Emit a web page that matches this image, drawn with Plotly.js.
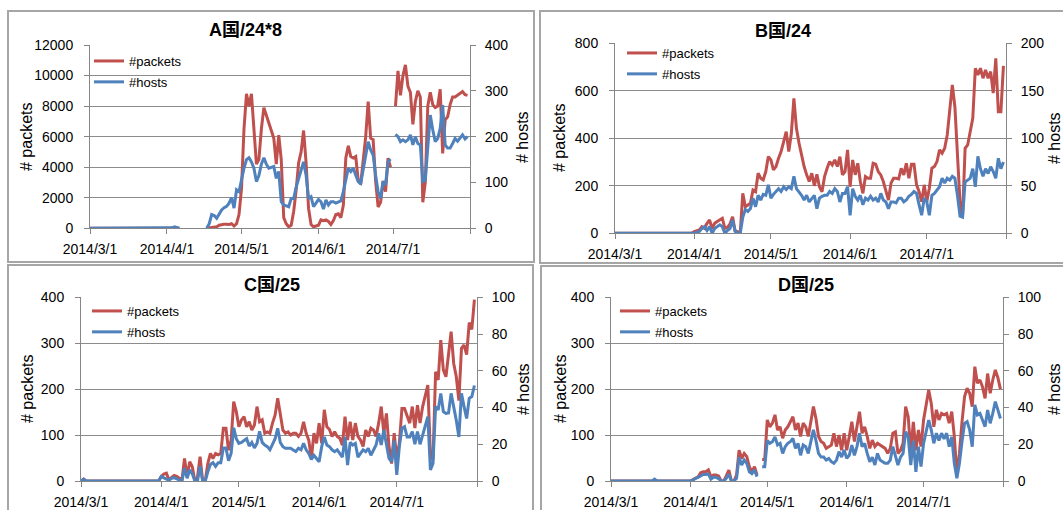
<!DOCTYPE html>
<html>
<head>
<meta charset="utf-8">
<script src="https://cdn.plot.ly/plotly-3.0.1.min.js"></script>
<style>html,body{margin:0;padding:0;background:#fff;}#chart{width:1063px;height:510px;}</style>
</head>
<body>
<div id="chart"></div>
<script>
// ---------- data ----------
const monthKeys = ['2014-03', '2014-04', '2014-05', '2014-06', '2014-07'];
const monthDays = [31, 30, 31, 30, 31];
const tickDates = ['2014-03-01', '2014-04-01', '2014-05-01', '2014-06-01', '2014-07-01', '2014-08-01'];
const tickLabels = ['2014/3/1', '2014/4/1', '2014/5/1', '2014/6/1', '2014/7/1', ''];

const panelTitles = ['A国/24*8', 'B国/24', 'C国/25', 'D国/25'];
const seriesNames = ['#packets', '#hosts'];

const aPackets = [
  0,0,0,0,0,0,0,0,0,0, 0,0,0,0,0,0,0,0,0,0, 0,0,0,0,0,0,0,0,0,0, 0,
  0,0,0,0,0,0, null,null,null,null,null,null,null,null,null,null, 0,30,50,80,100,200,250,260,270,250,300,150,300,900,
  2600,6500,8800,8000,8800,6500,4200,4500,6500,7900, 7400,6800,6300,5900,4200,6100,4500,700,300,100, 200,1100,2500,4300,5000,6400,4300,1300,250,100, 150,
  200,550,500,550,450,250,500,900,950,700, 1500,4600,5400,4700,4600,4700,3100,2900,4500,6000, 8300,5900,5800,3100,1400,1700,3100,2400,4600,4000,
  null,8000,10300,8700,10000,10700,9300,8900,6800,8300, 9000,8600,1700,3000,8000,8900,8100,7900,8000,9100, 4900,7100,7300,8100,8600,8600,8700,8850,8950,8750, 8700
];
const aHosts = [
  0,0,0,0,0,0,0,0,0,0, 0,0,0,0,0,0,0,0,0,0, 0,0,0,0,0,0,0,0,0,0, 0,
  0,0,1,3,1,0, null,null,null,null,null,null,null,null,null,null, 0,10,30,28,22,32,40,45,48,55,67,44,84,80,
  110,131,150,154,145,131,102,115,140,154, 140,131,133,135,109,124,58,51,49,47, 65,65,90,109,124,145,116,65,69,47, 55,
  63,58,42,62,51,58,58,55,58,60, 80,109,131,124,131,116,102,98,131,160, 189,171,160,116,80,65,102,95,145,151,
  null,205,200,189,193,189,193,204,182,200, 185,182,102,105,182,247,215,189,196,218, 269,182,175,175,185,196,190,197,204,195, 200
];

const bPackets = [
  0,0,0,0,0,0,0,0,0,0, 0,0,0,0,0,0,0,0,0,0, 0,0,0,0,0,0,0,0,0,0, 0,
  7,10,14,28,21,42,56,20,42,50, 56,63,21,25,40,70,10,7,0,168, 112,119,126,182,175,253,232,225,260,323,
  309,267,281,316,344,386,428,344,420,568, 442,380,330,281,246,218,253,200,248,196, 175,239,274,302,288,309,281,323,246,260, 351,
  196,309,246,295,218,168,239,232,232,295, 291,260,246,218,175,140,211,232,232,229, 274,246,295,232,291,291,204,175,133,204,
  133,190,274,281,302,351,337,358,414,526, 625,533,358,133,70,358,372,428,484,695, 667,695,653,688,653,681,590,737,512,512, 705
];
const bHosts = [
  0,0,0,0,0,0,0,0,0,0, 0,0,0,0,0,0,0,0,0,0, 0,0,0,0,0,0,0,0,0,0, 0,
  0,1,2,5,7,3,7,0,5,7, 9,7,0,3,5,14,2,0,0,17, 25,23,26,37,28,40,35,41,40,51,
  37,41,44,47,44,49,46,49,47,60, 47,44,40,35,40,33,37,40,26,37, 39,40,40,44,42,47,44,33,42,42, 49,
  19,47,39,35,40,30,37,35,39,35, 37,33,42,35,33,26,33,33,32,37, 37,33,35,39,41,44,42,30,19,37,
  33,19,40,42,46,49,58,53,58,56, 60,58,40,18,17,54,56,58,68,49, 81,68,60,68,63,70,65,58,79,68, 75
];

const cPackets = [
  0,4,0,0,0,0,0,0,0,0, 0,0,0,0,0,0,0,0,0,0, 0,0,0,0,0,0,0,0,0,0, 0,
  10,15,17,2,8,12,10,6,2,49, 9,42,31,0,8,53,0,0,38,60, 49,60,57,60,115,115,67,89,173,151,
  118,133,140,118,129,111,122,162,129,133, 104,107,104,126,144,180,140,111,104,107, 100,104,104,97,104,129,104,89,49,104, 82,
  126,82,155,118,112,97,107,97,93,78, 140,89,129,89,126,97,89,75,111,97, 115,111,97,126,162,104,147,75,38,104,
  49,82,158,158,144,126,162,115,165,126, 162,184,209,57,46,238,220,307,242,227, 274,325,256,227,175,289,296,275,345,330, 395
];
const cHosts = [
  0,1,0,0,0,0,0,0,0,0, 0,0,0,0,0,0,0,0,0,0, 0,0,0,0,0,0,0,0,0,0, 0,
  2.4,1.5,1,0.5,1.5,1.8,1,0.5,0,7, 1.5,6,4,0,0,8,0,0,5,9, 10,8,10,10,18,18,11,15,29,23,
  20.5,21,22,23,19,21,18,20.5,27,21, 19.6,18.7,17,19.6,23,28.7,21,18.7,17.8,17.8, 17.8,16.9,16,17.8,17,20.5,17,15,11.8,14, 12,
  10.5,18.7,24,19.6,18.7,17,16,17,15,13, 24,8.7,21,19.6,20.5,13,15,17,16,17.8, 14,17,19.6,26,19.6,27.8,21,12.3,10.5,22,
  3.3,18.7,28.7,29.6,24,24,26.9,20,26.9,20, 25,29.6,35,6,9.6,40.5,38.7,47.7,37.8,36.8, 37,47.7,40.5,33,24,47.7,40.5,34,45,46, 52
];

const dPackets = [
  0,0,0,0,0,0,0,0,0,0, 0,0,0,0,0,0,0,0,0,0, 0,0,0,0,0,0,0,0,0,0, 0,
  0,3,6,9,18,20,20,24,9,13, 13,11,0,0,11,24,0,0,13,67, 49,60,53,31,20,31,13,null,47,47,
  133,118,126,144,111,118,93,111,118,129, 140,111,126,97,126,118,97,129,162,136, 97,86,82,71,75,78,104,75,100,67, 104,
  67,97,129,86,118,151,104,118,97,71, 89,75,82,78,75,71,60,71,104,107, 60,67,82,162,140,64,129,67,111,75,
  133,162,198,169,118,155,133,147,144,147, 126,151,97,13,60,129,184,202,191,162, 249,213,220,205,180,234,191,220,242,225, 200
];
const dHosts = [
  0,0,0,0,0,0,0,0,0,0, 0,0,0,0,0,0,0,1,0,0, 0,0,0,0,0,0,0,0,0,0, 0,
  0,0.5,1.5,2,2.7,3.6,3.6,3.8,1,2, 2,1.3,0,0,1.5,3.6,0,0,1.5,13, 8.7,11.4,9.6,5,4,6,2.4,null,7.8,7.8,
  22,20.5,21.4,24,19.6,20.5,15,18.7,20.5,21.4, 23.2,17.8,20.5,14,19.6,18.7,15,21.4,27.8,22, 15,13,13,11.4,12.3,10.5,9.6,11.4,16,13, 16.9,
  12.3,14,19.6,14,18.7,26,18.7,20.5,15,10.5, 13,8.7,15,11.4,10.5,9.6,9.6,11.4,18.7,14, 8.7,13,15,26.9,24,8.7,22,5,18.7,7.8,
  20.5,26.9,33.2,27.8,20.5,26,22,26,23,26, 18.7,24,9.6,1.5,9.6,21.4,31.4,32.3,27.8,18.7, 41.4,36,36.8,33.2,29.6,38.7,31.4,36.8,43.2,38.7, 34
];

const packetRanges = [[0, 12000], [0, 800], [0, 400], [0, 400]];
const packetSteps = [2000, 200, 100, 100];
const hostRanges = [[0, 400], [0, 200], [0, 100], [0, 100]];
const hostSteps = [100, 50, 20, 20];

// ---------- build ----------
const dates = [];
monthKeys.forEach((m, i) => {
  for (let d = 1; d <= monthDays[i]; d++) dates.push(m + '-' + String(d).padStart(2, '0'));
});

const W = 1063, H = 510;
const px = v => v / W;
const py = v => 1 - v / H;
const FONT = 'Liberation Sans, Arial, Noto Sans CJK SC, sans-serif';
const RED = '#C0504D', BLUE = '#4F81BD';
const AX = '#868686';

// plot boxes in pixels: [left, right, top, bottom]
const boxes = [[90, 470, 45, 228.3], [615, 1006, 43.3, 233.3], [81, 477, 297.3, 481], [611, 1003, 297.3, 481]];
const legendPos = [[89, 46], [622, 38], [87, 296], [615, 296]];
const titlePos = [[245, 30], [783, 31], [272, 285], [806, 285]];
const yTitleL = [[27, 137], [560, 138], [27, 389], [560, 389]];
const yTitleR = [[523, 137], [1055, 138], [523, 389], [1054, 389]];
const frames = [[8, 11, 534, 262], [540, 11, 1075, 263], [8, 265, 533, 520], [541, 266, 1075, 520]];

const packets = [aPackets, bPackets, cPackets, dPackets];
const hosts = [aHosts, bHosts, cHosts, dHosts];

const layout = {
  width: W, height: H,
  margin: {l: 0, r: 0, t: 0, b: 0},
  paper_bgcolor: '#fff', plot_bgcolor: '#fff',
  showlegend: true,
  font: {family: FONT, color: '#000'},
  annotations: [], shapes: []
};
const traces = [];

for (let i = 0; i < 4; i++) {
  const xs = i === 0 ? '' : String(i + 1);
  const yl = i === 0 ? '' : String(2 * i + 1);
  const yr = String(2 * i + 2);
  const [l, r, t, b] = boxes[i];
  const legKey = i === 0 ? 'legend' : 'legend' + (i + 1);

  layout['xaxis' + xs] = {
    domain: [px(l), px(r)], anchor: 'y' + yl, type: 'date',
    range: ['2014-03-01', '2014-08-01'],
    tickmode: 'array', tickvals: tickDates, ticktext: tickLabels,
    showline: true, linecolor: AX, linewidth: 1,
    ticks: 'outside', ticklen: 5, tickcolor: AX,
    showgrid: false, zeroline: false,
    tickfont: {size: 14, family: FONT, color: '#000'},
    ticklabelstandoff: 3, fixedrange: true
  };
  layout['yaxis' + yl] = {
    domain: [py(b), py(t)], anchor: 'x' + xs,
    range: packetRanges[i], tick0: 0, dtick: packetSteps[i], tickformat: 'd',
    showline: true, linecolor: AX, linewidth: 1,
    ticks: 'outside', ticklen: 5, tickcolor: AX,
    showgrid: true, gridcolor: '#8c8c8c', gridwidth: 1, zeroline: false,
    tickfont: {size: 14, family: FONT, color: '#000'},
    ticklabelstandoff: 8, fixedrange: true
  };
  layout['yaxis' + yr] = {
    overlaying: 'y' + yl, side: 'right', anchor: 'x' + xs,
    range: hostRanges[i], tick0: 0, dtick: hostSteps[i], tickformat: 'd',
    showline: true, linecolor: AX, linewidth: 1,
    ticks: 'outside', ticklen: 5, tickcolor: AX,
    showgrid: false, zeroline: false,
    tickfont: {size: 14, family: FONT, color: '#000'},
    ticklabelstandoff: 6, fixedrange: true
  };
  layout[legKey] = {
    x: px(legendPos[i][0]), y: py(legendPos[i][1]), xanchor: 'left', yanchor: 'top',
    bgcolor: 'rgba(0,0,0,0)', borderwidth: 0,
    font: {size: 13, family: FONT, color: '#000'},
    tracegroupgap: 1, itemwidth: 30
  };

  traces.push({
    x: dates, y: packets[i], xaxis: 'x' + xs, yaxis: 'y' + yl,
    type: 'scatter', mode: 'lines', name: seriesNames[0],
    legend: legKey, legendgroup: 'p' + i,
    line: {color: RED, width: 3}, connectgaps: false, hoverinfo: 'skip'
  });
  traces.push({
    x: dates, y: hosts[i], xaxis: 'x' + xs, yaxis: 'y' + yr,
    type: 'scatter', mode: 'lines', name: seriesNames[1],
    legend: legKey, legendgroup: 'h' + i,
    line: {color: BLUE, width: 3}, connectgaps: false, hoverinfo: 'skip'
  });

  layout.annotations.push({
    xref: 'paper', yref: 'paper', x: px(titlePos[i][0]), y: py(titlePos[i][1]),
    xanchor: 'center', yanchor: 'middle', showarrow: false,
    text: '<b>' + panelTitles[i] + '</b>', font: {size: 18, family: FONT, color: '#000'}
  });
  layout.annotations.push({
    xref: 'paper', yref: 'paper', x: px(yTitleL[i][0]), y: py(yTitleL[i][1]),
    xanchor: 'center', yanchor: 'middle', showarrow: false, textangle: -90,
    text: '# packets', font: {size: 16, family: FONT, color: '#000'}
  });
  layout.annotations.push({
    xref: 'paper', yref: 'paper', x: px(yTitleR[i][0]), y: py(yTitleR[i][1]),
    xanchor: 'center', yanchor: 'middle', showarrow: false, textangle: -90,
    text: '# hosts', font: {size: 16, family: FONT, color: '#000'}
  });
  const f = frames[i];
  layout.shapes.push({
    type: 'rect', xref: 'paper', yref: 'paper',
    x0: px(f[0]), x1: px(f[2]), y0: py(f[3]), y1: py(f[1]),
    line: {color: '#a6a6a6', width: 2}, fillcolor: 'rgba(0,0,0,0)'
  });
}

Plotly.newPlot('chart', traces, layout, {displayModeBar: false, staticPlot: true});
</script>
</body>
</html>
